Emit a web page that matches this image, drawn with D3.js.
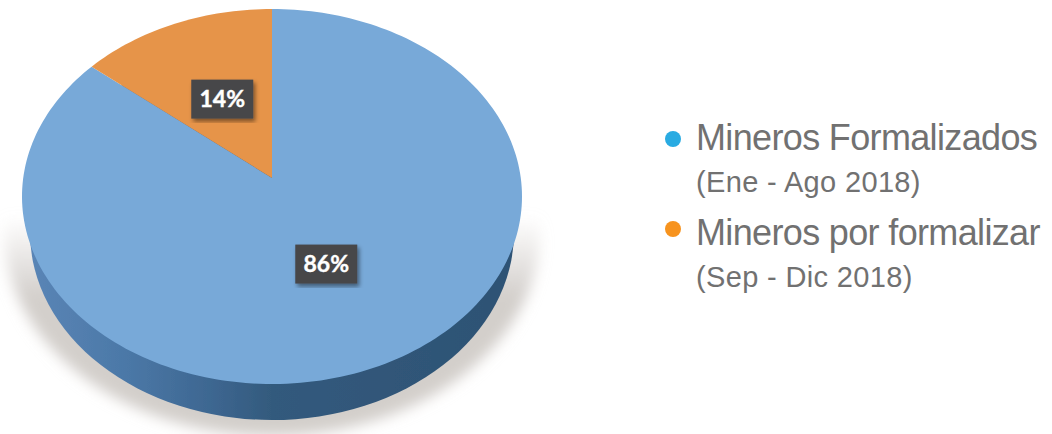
<!DOCTYPE html>
<html>
<head>
<meta charset="utf-8">
<script src="https://cdn.jsdelivr.net/npm/d3@7"></script>
<style>
  html, body { margin: 0; padding: 0; background: #fff; }
  svg { display: block; }
</style>
</head>
<body>
<div id="chart"></div>
<script>
// data
const categories = ["Mineros Formalizados", "Mineros por formalizar"];
const periods = ["(Ene - Ago 2018)", "(Sep - Dic 2018)"];
const values = [86, 14];
const sliceColors = ["#78a9d8", "#e6944a"];
const dotColors = ["#29abe2", "#f7931e"];

const width = 1052,
  height = 434;

// the pie is a tilted disc: centre, radii, wall depth
const cx = 272,
  cy = 196.5,
  rx = 250,
  ry = 187.5,
  depth = 36,
  tilt = -0.0987; // moves the apex up because of the perspective

const x = d3.scaleLinear().domain([-1, 1]).range([cx - rx, cx + rx]);
const y = d3.scaleLinear().domain([-1, 1]).range([cy - ry, cy + ry]);

// point on the unit disc -> point on the tilted face
function project(u, v) {
  const w = 1 + tilt * v;
  return [x((u * Math.sqrt(1 - tilt * tilt)) / w), y((v + tilt) / w)];
}
function polar(angle, r) {
  return project(r * Math.sin(angle), -r * Math.cos(angle));
}

const svg = d3
  .select("#chart")
  .append("svg")
  .attr("width", width)
  .attr("height", height)
  .attr("viewBox", `0 0 ${width} ${height}`);

const defs = svg.append("defs");

defs
  .append("filter")
  .attr("id", "soft")
  .attr("x", "-20%")
  .attr("y", "-20%")
  .attr("width", "140%")
  .attr("height", "140%")
  .append("feGaussianBlur")
  .attr("stdDeviation", 7);

// the source picture is a bit soft, the pie too
defs
  .append("filter")
  .attr("id", "jpeg")
  .append("feGaussianBlur")
  .attr("stdDeviation", 0.6);

const boxShadow = defs.append("filter").attr("id", "boxShadow");
boxShadow
  .append("feDropShadow")
  .attr("dx", 2)
  .attr("dy", 3)
  .attr("stdDeviation", 2)
  .attr("flood-color", "#000")
  .attr("flood-opacity", 0.45);

const wallGradient = defs
  .append("linearGradient")
  .attr("id", "wall")
  .attr("x1", "0")
  .attr("x2", "1");
[
  [0, "#5a85b6"],
  [0.2, "#4b78a7"],
  [0.38, "#3d6690"],
  [0.5, "#335a7d"],
  [1, "#2d5274"],
].forEach((s) =>
  wallGradient.append("stop").attr("offset", s[0]).attr("stop-color", s[1])
);

// shadow fades out towards the top
const shadowGradient = defs
  .append("linearGradient")
  .attr("id", "shadowFade")
  .attr("x1", "0")
  .attr("x2", "0")
  .attr("y1", "0")
  .attr("y2", "1");
[
  [0.46, 0],
  [0.66, 1],
].forEach((s) =>
  shadowGradient
    .append("stop")
    .attr("offset", s[0])
    .attr("stop-color", "#d3cfcb")
    .attr("stop-opacity", s[1])
);

// shadow under the pie
svg
  .append("ellipse")
  .attr("cx", cx)
  .attr("cy", cy + 36)
  .attr("rx", rx + 18)
  .attr("ry", ry + 16)
  .attr("fill", "url(#shadowFade)")
  .attr("filter", "url(#soft)");

const pieGroup = svg.append("g").attr("filter", "url(#jpeg)");

// wall
pieGroup
  .append("ellipse")
  .attr("cx", cx)
  .attr("cy", cy + depth)
  .attr("rx", rx - 8)
  .attr("ry", ry)
  .attr("fill", "url(#wall)");

// top face
const pie = d3.pie().sort(null);
const slices = pie(values);
const line = d3.line();

function slicePath(d) {
  const steps = Math.ceil((d.endAngle - d.startAngle) * 40);
  const rim = d3
    .range(steps + 1)
    .map((i) =>
      polar(d.startAngle + ((d.endAngle - d.startAngle) * i) / steps, 1)
    );
  return line([project(0, 0), ...rim]) + "Z";
}

pieGroup
  .append("g")
  .selectAll("path")
  .data(slices)
  .enter()
  .append("path")
  .attr("d", slicePath)
  .attr("fill", (d, i) => sliceColors[i]);

// percent labels
const labels = svg
  .append("g")
  .selectAll("g")
  .data(slices)
  .enter()
  .append("g")
  .attr("transform", (d) => {
    const p = polar((d.startAngle + d.endAngle) / 2, 0.49);
    return `translate(${p[0]},${p[1]})`;
  });

labels
  .append("rect")
  .attr("x", -31)
  .attr("y", -19.5)
  .attr("width", 62)
  .attr("height", 39)
  .attr("fill", "#47474a")
  .attr("filter", "url(#boxShadow)");

labels
  .append("text")
  .attr("text-anchor", "middle")
  .attr("y", 8)
  .attr("font-family", "Lato, sans-serif")
  .attr("font-weight", 700)
  .attr("font-size", 23)
  .attr("fill", "#fff")
  .attr("stroke", "#fff")
  .attr("stroke-width", 0.4)
  .text((d) => d.value + "%");

// legend: the dots and the text rows do not share the same step in the picture
const legendFont = "'Liberation Sans', sans-serif";
const legend = svg
  .append("g")
  .selectAll("g")
  .data(categories)
  .enter()
  .append("g");

legend
  .append("circle")
  .attr("cx", 673)
  .attr("cy", (d, i) => 139 + i * 90)
  .attr("r", 8)
  .attr("fill", (d, i) => dotColors[i]);

legend
  .append("text")
  .attr("x", 696)
  .attr("y", (d, i) => 150 + i * 95)
  .attr("font-family", legendFont)
  .attr("font-size", 36)
  .attr("letter-spacing", -0.65)
  .attr("fill", "#717171")
  .text((d) => d);

legend
  .append("text")
  .attr("x", 696)
  .attr("y", (d, i) => 192 + i * 95)
  .attr("font-family", legendFont)
  .attr("font-size", 29)
  .attr("letter-spacing", 0.35)
  .attr("fill", "#717171")
  .text((d, i) => periods[i]);
</script>
</body>
</html>
